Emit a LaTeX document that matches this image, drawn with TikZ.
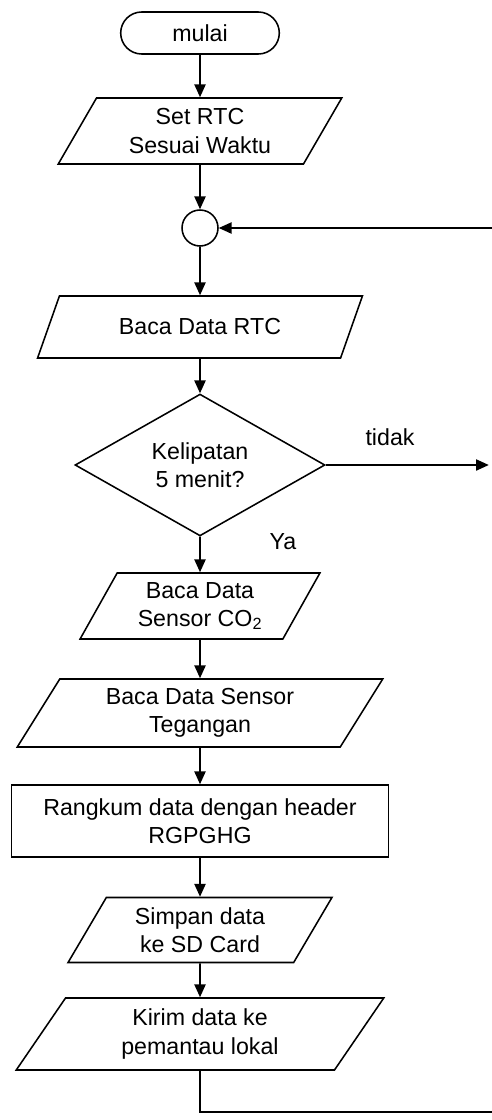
\documentclass[tikz,border=0pt]{standalone}
\usepackage{fontspec}
\setmainfont{Liberation Sans}
\usetikzlibrary{shapes.geometric,shapes.misc,arrows.meta}

\begin{document}
\begin{tikzpicture}[
		font=\fontsize{16.5}{20}\selectfont,
		line width=1.1pt,
		>={Triangle[length=3.2mm,width=2.8mm]},
		term/.style={draw,rounded rectangle,minimum width=4.2cm,minimum height=1.05cm},
		io/.style={draw,trapezium,trapezium left angle=64,trapezium right angle=116,trapezium stretches=true,align=center,inner xsep=0pt},
		proc/.style={draw,rectangle,align=center,minimum width=9.425cm,minimum height=1.8cm},
		dec/.style={draw,diamond,align=center,minimum width=6.25cm,minimum height=3.25cm,inner sep=0pt},
		hubc/.style={draw,circle,minimum size=0.9cm,inner sep=0pt},
	]
	\useasboundingbox (0,0) rectangle (12.3,-28);
	\node[term] (mulai) at (5,-0.825) {mulai};
	\node[io,minimum width=7.1cm,minimum height=1.65cm] (setrtc) at (5,-3.275) {Set RTC\\Sesuai Waktu};
	\node[hubc] (hub) at (5,-5.7) {};
	\node[io,minimum width=8.125cm,minimum height=1.55cm] (bacartc) at (5,-8.175) {Baca Data RTC};
	\node[dec] (cek) at (5,-11.625) {Kelipatan\\5 menit?};
	\node[io,minimum width=6cm,minimum height=1.65cm] (bacaco) at (5,-15.15) {Baca Data\\Sensor CO\textsubscript{2}};
	\node[io,minimum width=9.15cm,minimum height=1.7cm] (bacateg) at (5,-17.825) {Baca Data Sensor\\Tegangan};
	\node[proc] (rangkum) at (5,-20.525) {Rangkum data dengan header\\RGPGHG};
	\node[io,minimum width=6.6cm,minimum height=1.625cm] (simpan) at (5,-23.25) {Simpan data\\ke SD Card};
	\node[io,minimum width=9.2cm,minimum height=1.8cm] (kirim) at (5,-25.85) {Kirim data ke\\pemantau lokal};
	\node (tidak) at (9.75,-10.925) {tidak};
	\node (ya) at (7.075,-13.55) {Ya};
	\coordinate (balik) at (12.3,-5.7);
	\coordinate (keluar) at (12.22,-11.7);
	\coordinate (ujung) at (12.3,-27.8);

	\draw[->] (mulai) -- (setrtc);
	\draw[->] (setrtc) -- (hub);
	\draw[->] (hub) -- (bacartc);
	\draw[->] (bacartc) -- (cek);
	\draw[->] (cek) -- (bacaco);
	\draw[->] (bacaco) -- (bacateg);
	\draw[->] (bacateg) -- (rangkum);
	\draw[->] (rangkum) -- (simpan);
	\draw[->] (simpan) -- (kirim);
	\draw[->] (cek.east) -- (keluar |- cek.east);
	\draw[->] (balik) -- (hub.east);
	\draw (kirim.south) |- (ujung);
\end{tikzpicture}
\end{document}
